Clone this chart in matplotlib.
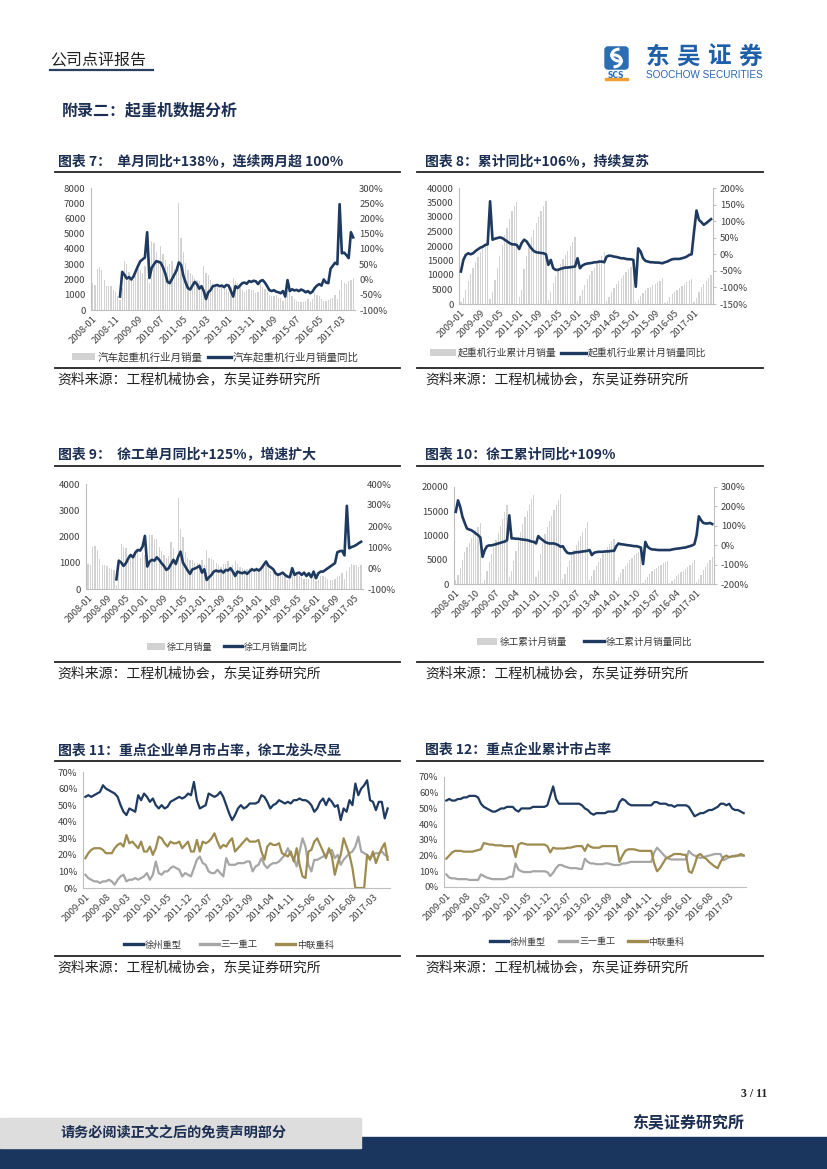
import numpy as np
import pandas as pd
import matplotlib
matplotlib.use('Agg')
import matplotlib.pyplot as plt
from matplotlib.patches import Rectangle, FancyBboxPatch, Patch, Arc
from matplotlib.lines import Line2D

plt.rcParams['font.family'] = ['Noto Sans CJK SC', 'DejaVu Sans']

W, H = 827, 1169
NAVY = '#1f3a60'
TITLE = '#1c2f52'
BAR = '#d2d2d2'
GRAY_LINE = '#a6a6a6'
OLIVE = '#9d8b4f'
TICK = '#404040'

# ---------------- data ----------------
# 图表7 汽车起重机行业月销量 (2008-01 ~ 2017-08) and 同比 (from 2009-01)
c7_sales = [1750, 1650, 2700, 2850, 2650, 2000, 1600, 1600, 1550, 1300, 1150, 900,
            650, 1450, 3200, 3000, 2500, 2100, 2000, 2200, 2700, 2600, 2450, 2900,
            2100, 1800, 4500, 4400, 3800, 3300, 4200, 3700, 3300, 2900, 3000, 3200,
            2700, 2600, 7000, 4700, 3800, 3100, 2600, 2400, 2300, 2100, 2000, 1900,
            1600, 2900, 2400, 2300, 2000, 1800, 1600, 1500, 1400, 1500, 1500, 1400,
            1200, 1500, 2100, 1900, 1800, 1500, 1300, 1200, 1300, 1400, 1300, 1300,
            1100, 1200, 1700, 1500, 1400, 1200, 1000, 900, 900, 1000, 800, 800,
            600, 800, 1300, 1100, 900, 700, 600, 500, 500, 500, 600, 700,
            500, 700, 1100, 1000, 900, 700, 600, 600, 650, 700, 800, 1000,
            700, 1300, 2000, 1800, 1700, 1900, 2000, 2100]
c7_yoy = [-56, 25, 15, 3, 8, 0, 10, 28, 45, 60, 66, 72,
          155, 5, 38, 50, 60, 58, 55, 40, 20, -8, -12, 2,
          16, 30, 56, 48, 12, -10, -28, -33, -20, -8, -15, -30,
          -22, -38, -64, -42, -35, -22, -20, -18, -22, -20, -25, -18,
          -20, -38, -56, -22, -28, -20, -12, -10, -14, -5, -8, -4,
          -6, -15, -5, -2, -10, -22, -35, -38, -35, -40, -42, -45,
          -38, -56, -2, -38, -32, -36, -34, -38, -33, -36, -42, -38,
          -45, -40, -28, -20, -15, -20, 0, -10, -12, 35, 45, 55,
          50, 247, 86, 88, 80, 70, 155, 138]

# 图表8 起重机行业累计月销量 (2009-01 ~ 2017-08) and 累计同比
c8_cum = [700, 2000, 5000, 8000, 10500, 12500, 14500, 16200, 18000, 19600, 21000, 22500,
          1800, 4200, 8300, 12300, 16400, 20400, 23800, 26200, 29400, 32000, 33800, 35300,
          2500, 5000, 12000, 16500, 20000, 23000, 25500, 27800, 30000, 32000, 33800, 35500,
          1400, 4300, 7100, 9800, 12000, 13900, 15500, 16900, 18300, 19900, 21500, 23000,
          1200, 2700, 4800, 6700, 8500, 10000, 11300, 12500, 13800, 15200, 16600, 18100,
          1100, 2300, 4000, 5500, 6900, 8100, 9100, 10000, 10900, 11900, 12700, 13500,
          600, 1400, 2700, 3800, 4700, 5400, 6000, 6500, 7000, 7500, 8100, 8800,
          500, 1200, 2300, 3300, 4200, 4900, 5500, 6100, 6750, 7450, 8000, 8700,
          700, 2000, 4000, 5800, 7000, 8000, 9000, 10100]
c8_yoy = [-52, -17, -2, 3, 0, 3, 10, 15, 20, 23, 28, 30,
          160, 44, 47, 49, 51, 49, 44, 39, 34, 30, 30, 28,
          16, 34, 44, 39, 28, 18, 10, 6, 5, 4, 3, 0,
          -32, -17, -42, -47, -47, -44, -42, -40, -40, -39, -38, -37,
          -12, -42, -34, -30, -28, -27, -26, -24, -24, -22, -22, -24,
          -7, -4, -5, -7, -8, -10, -12, -12, -14, -15, -15, -17,
          -98, 18, 8, -12, -20, -22, -24, -24, -25, -25, -26, -27,
          -24, -22, -18, -15, -14, -14, -14, -12, -10, -7, -2, 0,
          69, 132, 104, 97, 89, 94, 100, 106]

# 图表9 徐工月销量 (2008-01 ~ 2017-08) and 同比 (from 2009-01)
c9_sales = [950, 900, 1600, 1650, 1500, 1150, 900, 900, 880, 800, 750, 720,
            150, 600, 1700, 1600, 1550, 1300, 1200, 1300, 1500, 1400, 1200, 1400,
            1300, 1100, 2050, 2050, 1900, 1900, 1600, 1450, 1300, 1200, 1250, 1800,
            1550, 1100, 3450, 2300, 2000, 1400, 1200, 1100, 1100, 1000, 1000, 1000,
            1100, 900, 1500, 1200, 1150, 1100, 1000, 900, 850, 950, 950, 1050,
            800, 900, 1050, 950, 850, 800, 750, 750, 800, 850, 800, 850,
            700, 750, 850, 900, 800, 700, 650, 600, 600, 600, 550, 550,
            350, 500, 750, 650, 550, 500, 450, 400, 400, 380, 400, 450,
            300, 350, 500, 500, 450, 400, 350, 350, 400, 450, 500, 600,
            400, 700, 850, 950, 900, 900, 850, 900]
c9_yoy = [-54, 35, 26, 10, 23, 46, 62, 51, 74, 86, 83, 102,
          153, 7, 31, 39, 35, 51, 39, 23, 10, -9, -1, 19,
          39, 19, 54, 78, 26, 7, -12, -28, -6, -3, 3, 10,
          -22, -6, -57, -44, -33, -17, -12, -17, -12, -22, -9, -12,
          -1, -17, -38, -17, -22, -25, -19, -28, -17, -6, -12, -6,
          -12, -1, 15, 31, 10, 3, -6, -25, -33, -28, -22, -33,
          -41, -44, -1, -33, -25, -22, -33, -22, -38, -25, -44, -17,
          -49, -25, -17, -17, -9, -1, 7, 15, 23, 75, 80, 82,
          60, 296, 94, 100, 104, 110, 118, 125]

# 图表10 徐工累计月销量 (2008-01 ~ 2017-08) and 累计同比
c10_cum = [900, 1800, 3400, 5000, 6500, 7600, 8500, 9400, 10300, 11100, 11800, 12500,
           200, 900, 2700, 4500, 6200, 7600, 9000, 10500, 12000, 13500, 14800, 16200,
           1400, 2600, 4700, 6800, 8800, 10700, 12300, 13800, 15100, 16300, 17500, 18400,
           1500, 2600, 6100, 8400, 10400, 11800, 13000, 14100, 15200, 16200, 17300, 18600,
           1100, 2000, 3500, 4700, 5900, 7000, 8000, 8900, 9800, 10700, 11600, 12700,
           800, 1700, 2800, 3700, 4600, 5400, 6100, 6900, 7600, 8300, 8800, 9200,
           700, 1400, 2200, 3000, 3700, 4300, 4900, 5400, 5900, 6300, 6600, 6900,
           300, 800, 1500, 2100, 2600, 3000, 3400, 3700, 4000, 4300, 4500, 4800,
           250, 600, 1100, 1600, 2000, 2400, 2750, 3100, 3500, 3900, 4400, 5000,
           400, 1100, 1900, 2800, 3600, 4300, 5000, 5600]
c10_yoy = [172, 231, 197, 146, 115, 86, 81, 77, 69, 60, 52, 40,
           -60, -25, -5, -1, -1, 2, 5, 9, 12, 16, 19, 26,
           154, 35, 35, 33, 33, 31, 29, 28, 26, 23, 19, 17,
           9, 47, 35, 26, 17, 12, 9, 9, 9, 5, 0, -8,
           -5, -25, -39, -42, -42, -39, -36, -36, -34, -32, -31, -29,
           -25, -51, -39, -36, -34, -34, -34, -32, -32, -31, -29, -29,
           -5, 9, 5, 4, 2, 0, -1, -3, -5, -5, -8, -12,
           -97, 17, -8, -17, -22, -22, -24, -25, -25, -25, -25, -25,
           -25, -22, -20, -18, -17, -15, -13, -12, -8, -5, -1, 5,
           52, 149, 129, 115, 112, 112, 115, 109]

# 图表11 单月市占率 (2009-01 ~ 2017-08)
c11_xcmg = [55, 56, 55, 56, 57, 58, 62, 60, 59, 58, 57, 55,
            50, 46, 44, 48, 47, 46, 56, 53, 57, 55, 52, 54,
            50, 48, 50, 48, 49, 52, 53, 54, 55, 54, 55, 57,
            56, 64, 53, 48, 49, 50, 57, 56, 55, 56, 58, 55,
            50, 45, 41, 44, 48, 50, 48, 49, 51, 51, 51, 52,
            56, 55, 52, 48, 50, 51, 53, 52, 51, 52, 51, 53,
            53, 54, 53, 53, 52, 50, 46, 48, 52, 54, 50, 54,
            52, 49, 50, 41, 48, 46, 53, 50, 63, 56, 60, 62,
            65, 53, 52, 47, 52, 52, 42, 48]
c11_sany = [8, 6, 5, 4, 4, 3, 4, 4, 5, 4, 2, 5,
            7, 8, 4, 5, 5, 6, 5, 6, 7, 9, 5, 8,
            16, 9, 8, 10, 10, 12, 13, 12, 11, 7, 9, 8,
            7, 12, 17, 19, 15, 14, 10, 9, 9, 11, 9, 7,
            18, 14, 14, 14, 15, 15, 15, 16, 16, 10, 13, 14,
            18, 14, 12, 14, 15, 15, 16, 18, 20, 24, 20, 18,
            13, 22, 30, 25, 14, 10, 17, 17, 18, 19, 20, 22,
            23, 18, 20, 14, 17, 19, 21, 22, 25, 31, 22, 21,
            20, 18, 20, 21, 21, 22, 20, 19]
c11_zoomlion = [18, 21, 23, 24, 24, 24, 23, 21, 21, 21, 24, 26,
                27, 25, 32, 27, 28, 26, 24, 28, 22, 22, 25, 20,
                24, 31, 30, 27, 25, 28, 27, 27, 28, 24, 26, 28,
                22, 22, 29, 22, 28, 27, 28, 30, 33, 28, 24, 26,
                25, 28, 30, 22, 24, 26, 28, 30, 28, 28, 28, 29,
                22, 17, 25, 27, 26, 26, 27, 21, 20, 19, 22, 16,
                24, 14, 7, 6, 22, 23, 28, 30, 26, 22, 18, 24,
                19, 8, 15, 20, 30, 25, 20, 12, 0, 0, 0, 0,
                20, 17, 22, 15, 20, 24, 27, 17]

# 图表12 累计市占率 (2009-01 ~ 2017-08)
c12_xcmg = [55, 56, 55, 55, 56, 56, 57, 57, 58, 58, 58, 57,
            53, 51, 50, 49, 48, 48, 49, 50, 50, 51, 51, 51,
            49, 48, 50, 50, 50, 50, 51, 51, 51, 51, 51, 52,
            58, 64, 56, 53, 53, 53, 53, 53, 53, 53, 53, 52,
            50, 49, 47, 46, 47, 47, 47, 47, 48, 48, 48, 49,
            54, 56, 55, 53, 52, 52, 52, 52, 52, 52, 52, 52,
            54, 54, 53, 53, 53, 52, 52, 51, 52, 52, 52, 52,
            51, 48, 45, 46, 47, 47, 48, 49, 49, 50, 51, 53,
            53, 52, 53, 50, 49, 49, 48, 47]
c12_sany = [8, 6, 5.5, 5.5, 5, 5, 5, 5, 4.5, 4.5, 4.5, 4.5,
            8, 7, 6, 5.5, 5, 5, 5, 5, 5, 5.5, 6.5, 6.5,
            15, 11, 10, 9.5, 9.5, 9.5, 10, 10, 10, 10, 10, 9.5,
            7, 9, 12, 14, 14, 13, 12.5, 12, 12, 12, 11.5, 11.5,
            18, 16, 15, 15, 14.5, 14.5, 14.5, 15, 15, 14.5, 14, 14,
            14, 15, 15, 15.5, 16, 16, 16, 16, 16, 16, 16, 16,
            22, 25, 23, 21, 19, 18, 17.5, 17.5, 17.5, 17.5, 17.5, 17.5,
            23, 21, 20, 19, 18.5, 19, 19.5, 20, 20.5, 21, 21, 21,
            17, 18, 19, 19.5, 20, 20, 20, 20]
c12_zoomlion = [18, 20, 22, 23, 23, 23, 22.5, 22.5, 22.5, 22.5, 23, 23.5,
                24, 28, 27.5, 27, 27, 26.5, 26.5, 26.5, 26, 26, 26, 26,
                19, 27, 28, 27.5, 27, 27, 27, 27, 27, 27, 27, 26,
                22, 25, 24.5, 24.5, 24.5, 24.5, 25, 25, 25.5, 26, 26, 26,
                23, 27, 25.5, 25, 25, 25, 26, 26, 26, 26, 26, 26,
                16, 20, 23, 24, 24, 24, 23.5, 23, 23, 23, 23, 23,
                15, 10, 12, 15, 18, 19, 20, 21, 21, 21, 20.5, 20.5,
                10, 9, 14, 20, 21, 19, 18, 16, 14.5, 13, 12, 16,
                19, 20, 19, 19.5, 19.5, 20, 21, 20]

share_names = ['徐州重型', '三一重工', '中联重科']


def months(start, n):
    return [p.strftime('%Y-%m') for p in pd.period_range(start, periods=n, freq='M')]


def box(x0, y0, x1, y1):
    # pixel box (top-left origin) -> figure coords
    return [x0 / W, 1 - y1 / H, (x1 - x0) / W, (y1 - y0) / H]


def ftext(x, y, s, **kw):
    fig.text(x / W, 1 - y / H, s, **kw)


def hline(x0, x1, y, color='#222222', lw=1.3):
    fig.add_artist(Line2D([x0 / W, x1 / W], [1 - y / H, 1 - y / H],
                          transform=fig.transFigure, color=color, lw=lw))


def style_axis(ax, step, labels):
    x = np.arange(len(labels))
    ax.set_xticks(x[::step])
    ax.set_xticklabels(labels[::step], rotation=45, ha='right', va='top',
                       rotation_mode='anchor', fontsize=6.8, color=TICK)
    ax.tick_params(axis='x', length=0, pad=3)
    ax.tick_params(axis='y', length=0, labelsize=6.9, labelcolor=TICK, pad=4)
    for s in ['top', 'right']:
        ax.spines[s].set_visible(False)
    for s in ['left', 'bottom']:
        ax.spines[s].set_color('#bfbfbf')
        ax.spines[s].set_linewidth(0.8)
    ax.set_xlim(-0.8, len(labels) - 0.2)


def legend(handles, names, leg):
    cx, cy, size, hlen, gap = leg
    fig.legend(handles, names, loc='center', bbox_to_anchor=(cx / W, 1 - cy / H),
               ncol=len(names), frameon=False, fontsize=size, handlelength=hlen,
               handleheight=0.7, handletextpad=0.2, columnspacing=gap, labelcolor='#3a3a3a')


def bar_line(rect, start, bars, yoy, step, lticks, rticks, names, leg, right_spine):
    labels = months(start, len(bars))
    x = np.arange(len(labels))
    ax = fig.add_axes(box(*rect))
    ax.bar(x, bars, width=0.55, color=BAR, zorder=1)
    ax.set_ylim(lticks[0], lticks[-1])
    ax.set_yticks(lticks)
    ax.set_yticklabels([str(v) for v in lticks])
    style_axis(ax, step, labels)
    ax2 = ax.twinx()
    ax2.plot(x[len(bars) - len(yoy):], yoy, color=NAVY, lw=1.9, solid_joinstyle='round')
    ax2.set_ylim(rticks[0], rticks[-1])
    ax2.set_yticks(rticks)
    ax2.set_yticklabels([f'{v}%' for v in rticks])
    ax2.tick_params(axis='y', length=2 if right_spine else 0, labelsize=6.9,
                    labelcolor=TICK, color='#bfbfbf', pad=3)
    for s in ['top', 'left', 'bottom']:
        ax2.spines[s].set_visible(False)
    ax2.spines['right'].set_visible(right_spine)
    ax2.spines['right'].set_color('#bfbfbf')
    ax2.set_xlim(ax.get_xlim())
    handles = [Patch(facecolor=BAR, edgecolor='none'),
               Line2D([], [], color=NAVY, lw=2.4)]
    legend(handles, names, leg)


def share_chart(rect, series, step, leg):
    labels = months('2009-01', len(series[0]))
    x = np.arange(len(labels))
    ax = fig.add_axes(box(*rect))
    colors = [NAVY, GRAY_LINE, OLIVE]
    for vals, c in zip(series, colors):
        ax.plot(x, vals, color=c, lw=1.6, solid_joinstyle='round')
    ticks = list(range(0, 71, 10))
    ax.set_ylim(0, 70)
    ax.set_yticks(ticks)
    ax.set_yticklabels([f'{v}%' for v in ticks])
    style_axis(ax, step, labels)
    handles = [Line2D([], [], color=c, lw=2.4) for c in colors]
    legend(handles, share_names, leg)


fig = plt.figure(figsize=(W / 100, H / 100), dpi=100)

# ---------------- header ----------------
ftext(50, 60, '公司点评报告', fontsize=11.5, color='#222222', va='center')
hline(50, 153, 70, color='#2b3f5e', lw=1.6)

lax = fig.add_axes(box(604, 46, 629, 70))
lax.set_xlim(0, 1)
lax.set_ylim(0, 1)
lax.axis('off')
lax.add_patch(FancyBboxPatch((0.04, 0.04), 0.92, 0.92, boxstyle='round,pad=0,rounding_size=0.12',
                             color='#2d6db3'))
lax.add_patch(Arc((0.62, 0.62), 0.62, 0.5, theta1=90, theta2=300, color='white', lw=2.2))
lax.add_patch(Arc((0.38, 0.38), 0.62, 0.5, theta1=270, theta2=120, color='white', lw=2.2))
ftext(616, 75, 'SCS', fontsize=5.5, color='#2d6db3', ha='center', va='center',
      fontweight='bold', family='DejaVu Sans')
fig.add_artist(Rectangle((605 / W, 1 - 80 / H), 23 / W, 1.6 / H, transform=fig.transFigure,
                         color='#f0a030'))
for i, ch in enumerate('东吴证券'):
    ftext(657 + i * 31, 57, ch, fontsize=17, fontweight='bold', color='#1f5fa8',
          ha='center', va='center')
ftext(704, 75, 'SOOCHOW SECURITIES', fontsize=7.2, color='#2a65ad', ha='center', va='center',
      family='Liberation Sans')

ftext(62, 110, '附录二：起重机数据分析', fontsize=11.5, fontweight='bold', color=TITLE, va='center')

# ---------------- chart titles, rules, sources ----------------
titles = [(58, 161, '图表 7：  单月同比+138%，连续两月超 100%'),
          (425, 161, '图表 8：累计同比+106%，持续复苏'),
          (58, 455, '图表 9：  徐工单月同比+125%，增速扩大'),
          (425, 455, '图表 10：徐工累计同比+109%'),
          (58, 750, '图表 11：重点企业单月市占率，徐工龙头尽显'),
          (425, 750, '图表 12：重点企业累计市占率')]
for x, y, s in titles:
    ftext(x, y, s, fontsize=10, fontweight='bold', color=TITLE, va='center')

for ytop, ybot in [(172, 368), (466, 662), (761, 956)]:
    hline(55, 400, ytop)
    hline(417, 763, ytop)
    hline(55, 400, ybot)
    hline(417, 763, ybot)
    ftext(57, ybot + 11, '资料来源：工程机械协会，东吴证券研究所', fontsize=10, color='#222222', va='center')
    ftext(425, ybot + 11, '资料来源：工程机械协会，东吴证券研究所', fontsize=10, color='#222222', va='center')

# ---------------- charts ----------------
bar_line((91, 188, 355, 310), '2008-01', c7_sales, c7_yoy, 10,
         list(range(0, 8001, 1000)), list(range(-100, 301, 50)),
         ['汽车起重机行业月销量', '汽车起重机行业月销量同比'], ((68 + 363) / 2, 357, 7.6, 2.2, 0.5), False)
bar_line((459, 188, 713, 304), '2009-01', c8_cum, c8_yoy, 8,
         list(range(0, 40001, 5000)), list(range(-150, 201, 50)),
         ['起重机行业累计月销量', '起重机行业累计月销量同比'], ((425 + 712) / 2, 353, 7.1, 2.6, 0.4), True)
bar_line((86, 484, 363, 589), '2008-01', c9_sales, c9_yoy, 8,
         list(range(0, 4001, 1000)), list(range(-100, 401, 100)),
         ['徐工月销量', '徐工月销量同比'], ((148 + 307) / 2, 647, 6.6, 2.0, 1.2), False)
bar_line((454, 487, 714, 584), '2008-01', c10_cum, c10_yoy, 9,
         list(range(0, 20001, 5000)), list(range(-200, 301, 100)),
         ['徐工累计月销量', '徐工累计月销量同比'], ((478 + 692) / 2, 642, 6.9, 2.1, 1.8), True)

share_chart((83, 772, 390, 888), [c11_xcmg, c11_sany, c11_zoomlion], 7, ((128 + 330) / 2, 945, 6.7, 2.0, 2.0))
share_chart((444, 777, 746, 887), [c12_xcmg, c12_sany, c12_zoomlion], 7, ((490 + 684) / 2, 942, 6.5, 2.0, 1.5))

# ---------------- footer ----------------
ftext(767, 1094, '3 / 11', fontsize=8.5, fontweight='bold', color='#222222', ha='right', va='center',
      family='Liberation Serif')
ftext(632, 1122, '东吴证券研究所', fontsize=11.5, fontweight='bold', color=TITLE, va='center')
fig.add_artist(Rectangle((0, 0), 1, (H - 1137) / H, transform=fig.transFigure, color='#1a365e'))
fig.add_artist(Rectangle((0, 1 - 1148 / H), 361 / W, 30 / H, transform=fig.transFigure, color='#dddddd'))
ftext(60, 1133, '请务必阅读正文之后的免责声明部分', fontsize=10.2, fontweight='bold', color=TITLE, va='center')

fig.savefig('out.png', dpi=100)
